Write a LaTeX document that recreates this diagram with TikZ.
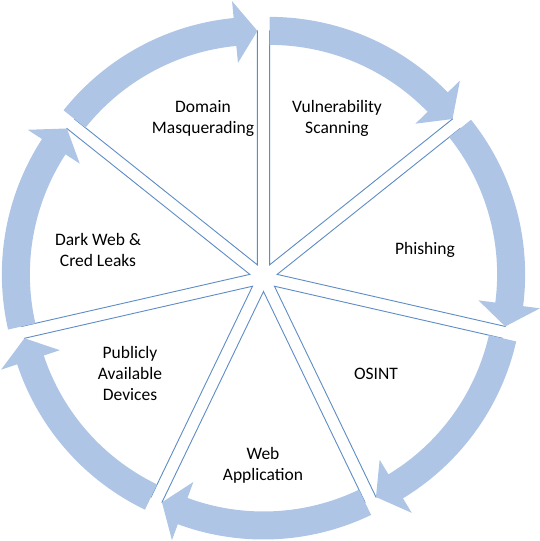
\documentclass[tikz,border=0pt]{standalone}
\usepackage{fontspec}
\setmainfont{Carlito}
\definecolor{bandblue}{RGB}{174,197,230}
\definecolor{edgeblue}{RGB}{95,140,198}
\tikzset{
  slice/.style={draw=edgeblue, line width=0.9pt, fill=white},
  band/.style={fill=bandblue, draw=none},
  lbl/.style={align=center, font=\fontsize{17.5}{21}\selectfont}
}
\begin{document}
\begin{tikzpicture}[x=1pt,y=1pt]
	\useasboundingbox (-263.5,-263.5) rectangle (276.5,277.5);
	% seven exploded wedges, each with its curved arrow (clockwise)
	\foreach \k in {0,...,6}{
		\pgfmathsetmacro{\a}{90-51.4286*\k}
		\pgfmathsetmacro{\b}{\a-51.4286}
		\pgfmathsetmacro{\c}{\b+5.5}
		\pgfmathsetmacro{\m}{\a-25.7143}
		\begin{scope}[shift={(\m:14)}]
			\draw[slice] (0,0) -- (\a:234) arc[start angle=\a, end angle=\b, radius=234] -- cycle;
			\fill[band] (\a:248) arc[start angle=\a, end angle=\c, radius=248] -- (\c:265) -- (\b:234)
				-- (\c:203) -- (\c:220) arc[start angle=\c, end angle=\a, radius=220] -- cycle;
		\end{scope}
	}
	\node[lbl] (vuln) at (73.5,159.5) {Vulnerability\\Scanning};
	\node[lbl] (phish) at (161.5,27.5) {Phishing};
	\node[lbl] (osint) at (112.5,-96.5) {OSINT};
	\node[lbl] (webapp) at (-0.5,-187.5) {Web\\Application};
	\node[lbl] (devices) at (-133.5,-95.5) {Publicly\\Available\\Devices};
	\node[lbl] (darkweb) at (-165.5,27.5) {Dark Web \&\\Cred Leaks};
	\node[lbl] (domain) at (-60.5,159.5) {Domain\\Masquerading};
\end{tikzpicture}
\end{document}
